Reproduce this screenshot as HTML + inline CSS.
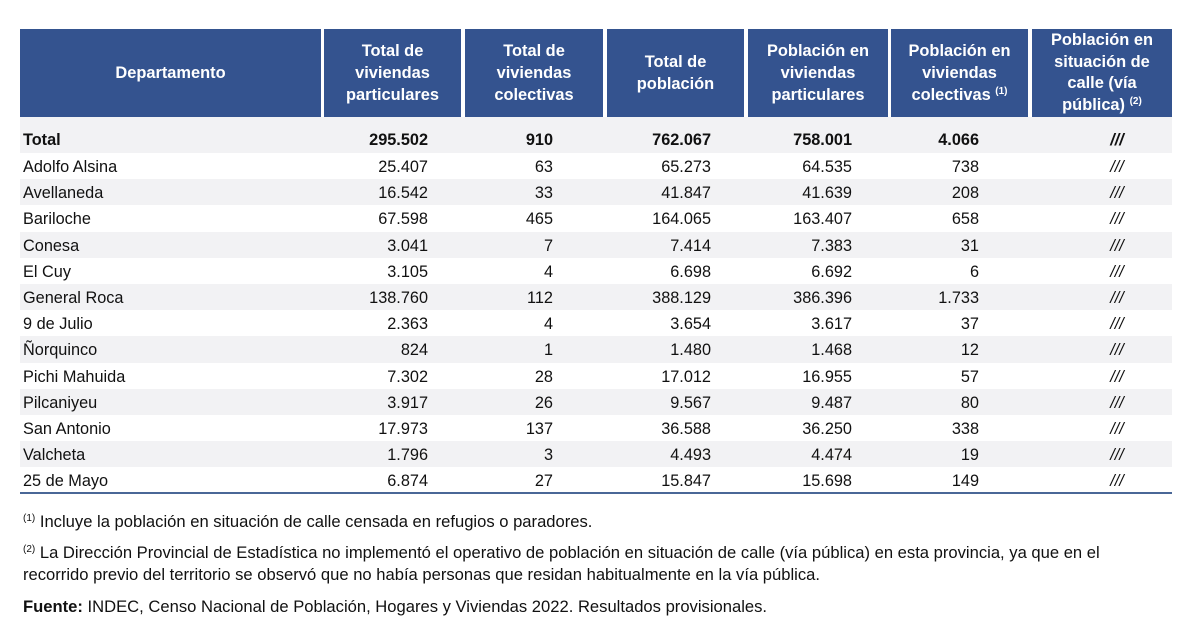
<!DOCTYPE html>
<html><head><meta charset="utf-8"><style>
body{margin:0;width:1200px;height:640px;background:#fff;font-family:"Liberation Sans",Arial,sans-serif;color:#111;position:relative;overflow:hidden}
.h{position:absolute;top:29px;height:88px;background:#34538f;color:#fff;font-weight:bold;font-size:16.4px;line-height:22px;display:flex;align-items:center;justify-content:center;text-align:center}
.r{position:absolute;left:20px;width:1152px;font-size:16.3px}
.g{background:#f2f2f4}
.r span{position:absolute;top:1px}
sup{font-size:10px;vertical-align:6px;line-height:0}
.f{position:absolute;left:23px;font-size:16.6px;line-height:22px}
</style></head><body>
<div class="h" style="left:20px;width:301px"><div>Departamento</div></div>
<div class="h" style="left:324px;width:137px"><div>Total de<br>viviendas<br>particulares</div></div>
<div class="h" style="left:465px;width:138px"><div>Total de<br>viviendas<br>colectivas</div></div>
<div class="h" style="left:607px;width:137px"><div>Total de<br>población</div></div>
<div class="h" style="left:748px;width:140px"><div>Población en<br>viviendas<br>particulares</div></div>
<div class="h" style="left:891px;width:137px"><div>Población en<br>viviendas<br>colectivas <sup>(1)</sup></div></div>
<div class="h" style="left:1032px;width:140px;line-height:21.5px"><div>Población en<br>situación de<br>calle (vía<br>pública) <sup>(2)</sup></div></div>
<div id="rows"></div>
<div style="position:absolute;left:20px;top:492px;width:1152px;height:2px;background:#4a6797"></div>
<div class="f" style="top:511px"><sup>(1)</sup> Incluye la población en situación de calle censada en refugios o paradores.</div>
<div class="f" style="top:542px"><sup>(2)</sup> La Dirección Provincial de Estadística no implementó el operativo de población en situación de calle (vía pública) en esta provincia, ya que en el<br>recorrido previo del territorio se observó que no había personas que residan habitualmente en la vía pública.</div>
<div class="f" style="top:596px"><b>Fuente:</b> INDEC, Censo Nacional de Población, Hogares y Viviendas 2022. Resultados provisionales.</div>
<script>
var d=[["Adolfo Alsina","25.407","63","65.273","64.535","738"],["Avellaneda","16.542","33","41.847","41.639","208"],["Bariloche","67.598","465","164.065","163.407","658"],["Conesa","3.041","7","7.414","7.383","31"],["El Cuy","3.105","4","6.698","6.692","6"],["General Roca","138.760","112","388.129","386.396","1.733"],["9 de Julio","2.363","4","3.654","3.617","37"],["Ñorquinco","824","1","1.480","1.468","12"],["Pichi Mahuida","7.302","28","17.012","16.955","57"],["Pilcaniyeu","3.917","26","9.567","9.487","80"],["San Antonio","17.973","137","36.588","36.250","338"],["Valcheta","1.796","3","4.493","4.474","19"],["25 de Mayo","6.874","27","15.847","15.698","149"]];
var rights=[428,553,711,852,979];
function row(a,top,h,lh,cls,bold){var s='<div class="r '+cls+'" style="top:'+top+'px;height:'+h+'px;line-height:'+lh+'px;'+(bold?'font-weight:bold;':'')+'"><span style="left:3px">'+a[0]+'</span>';
for(var i=0;i<5;i++)s+='<span style="right:'+(1172-rights[i])+'px">'+a[i+1]+'</span>';
s+='<span style="left:1072px;width:50px;text-align:center;font-style:italic">///</span></div>';return s;}
var h=row(["Total","295.502","910","762.067","758.001","4.066"],117,36,44,"g",true);
for(var i=0;i<d.length;i++)h+=row(d[i],153+i*26.2,26.2,26,i%2?"g":"",false);
document.getElementById("rows").innerHTML=h;
</script>
</body></html>
